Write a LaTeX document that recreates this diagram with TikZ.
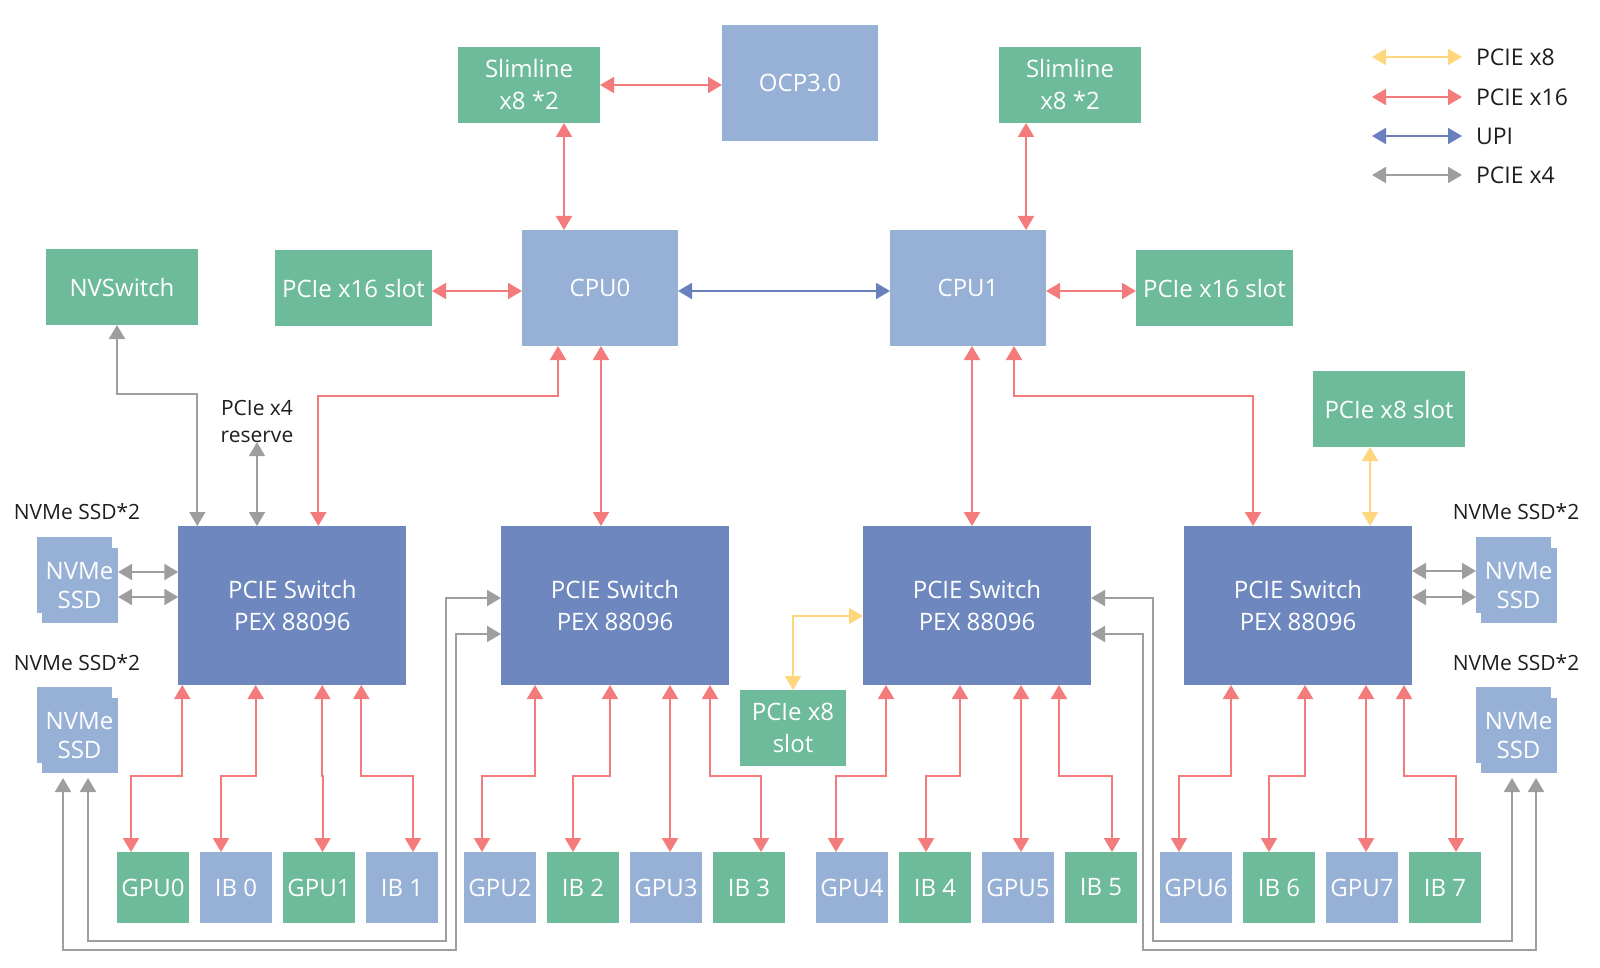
\documentclass[tikz,border=0pt]{standalone}
\usepackage{fontspec}
\setmainfont{Open Sans}
\usetikzlibrary{arrows.meta}
\definecolor{boxgreen}{HTML}{6DBB9B}
\definecolor{boxblue}{HTML}{97B0D6}
\definecolor{swblue}{HTML}{6E88BF}
\definecolor{linkred}{HTML}{F37B7B}
\definecolor{linkgray}{HTML}{9E9E9E}
\definecolor{linkyellow}{HTML}{FDD67E}
\definecolor{linkblue}{HTML}{6A80BE}
\definecolor{labelblack}{HTML}{1E1E1E}
\newcommand{\ssdlabel}{\hspace*{4pt}\raisebox{-8pt}[\dimexpr\height+8pt\relax][\dimexpr\depth+8pt\relax]{\begin{tabular}{@{}c@{}}NVMe\\SSD\end{tabular}}}

\begin{document}
\begin{tikzpicture}[x=1pt,y=-1pt,>={Triangle[length=14pt,width=16pt]}]
\tikzstyle{every node}=[inner sep=0pt,outer sep=0pt]
\tikzstyle{hwbox}=[rectangle,minimum width=152pt,minimum height=76pt,text=white,align=center,font=\fontsize{24}{32}\selectfont]
\tikzstyle{greenbox}=[hwbox,fill=boxgreen]
\tikzstyle{bluebox}=[hwbox,fill=boxblue]
\tikzstyle{switchbox}=[hwbox,fill=swblue,minimum width=228pt,minimum height=159pt]
\tikzstyle{cardbox}=[hwbox,minimum width=72pt,minimum height=71pt]
\tikzstyle{ssdbox}=[hwbox,minimum width=81pt,minimum height=86pt,font=\fontsize{24}{29}\selectfont,
  path picture={\fill[boxblue] (path picture bounding box.north west) rectangle ([xshift=-6pt,yshift=10pt]path picture bounding box.south east);
  \fill[boxblue] ([xshift=5pt,yshift=-11pt]path picture bounding box.north west) rectangle (path picture bounding box.south east);}]
\tikzstyle{lbl}=[text=labelblack,align=center,font=\fontsize{21}{27}\selectfont]
\tikzstyle{legendtext}=[text=labelblack,anchor=west,font=\fontsize{23}{28}\selectfont]
\tikzstyle{link}=[line width=2pt,<->]
\tikzstyle{pcie16}=[link,draw=linkred]
\tikzstyle{pcie8}=[link,draw=linkyellow]
\tikzstyle{pcie4}=[link,draw=linkgray]
\tikzstyle{upi}=[link,draw=linkblue]
\useasboundingbox (0,0) rectangle (1600,968);

\node[greenbox,minimum width=142pt] (slim0) at (529,85) {Slimline\\x8 *2};
\node[bluebox,minimum width=156pt,minimum height=116pt] (ocp) at (800,83) {OCP3.0};
\node[greenbox,minimum width=142pt] (slim1) at (1070,85) {Slimline\\x8 *2};
\node[greenbox] (nvsw) at (122,287) {NVSwitch};
\node[greenbox,minimum width=157pt] (slot16a) at (353.5,288) {PCIe x16 slot};
\node[bluebox,minimum width=156pt,minimum height=116pt] (cpu0) at (600,288) {CPU0};
\node[bluebox,minimum width=156pt,minimum height=116pt] (cpu1) at (968,288) {CPU1};
\node[greenbox,minimum width=157pt] (slot16b) at (1214.5,288) {PCIe x16 slot};
\node[greenbox] (slot8a) at (1389,409) {PCIe x8 slot};
\node[greenbox,minimum width=106pt] (slot8b) at (793,728) {PCIe x8\\slot};

\node[switchbox] (sw0) at (292.3,605.5) {PCIE Switch\\PEX 88096};
\node[switchbox] (sw1) at (615,605.5) {PCIE Switch\\PEX 88096};
\node[switchbox] (sw2) at (977,605.5) {PCIE Switch\\PEX 88096};
\node[switchbox] (sw3) at (1298,605.5) {PCIE Switch\\PEX 88096};

\node[ssdbox] (ssd0) at (77.5,580) {\ssdlabel};
\node[ssdbox] (ssd1) at (77.5,730) {\ssdlabel};
\node[ssdbox] (ssd2) at (1516.5,580) {\ssdlabel};
\node[ssdbox] (ssd3) at (1516.5,730) {\ssdlabel};
\node[lbl] (ssdlbl0) at (77,512) {NVMe SSD*2};
\node[lbl] (ssdlbl1) at (77,663) {NVMe SSD*2};
\node[lbl] (ssdlbl2) at (1516,512) {NVMe SSD*2};
\node[lbl] (ssdlbl3) at (1516,663) {NVMe SSD*2};
\node[lbl] (reserve) at (257,421) {PCIe x4\\reserve};

\foreach \n/\c/\t/\x in {gpu0/boxgreen/GPU0/153, ib0/boxblue/IB 0/236, gpu1/boxgreen/GPU1/319, ib1/boxblue/IB 1/402,
  gpu2/boxblue/GPU2/500, ib2/boxgreen/IB 2/583, gpu3/boxblue/GPU3/666, ib3/boxgreen/IB 3/749,
  gpu4/boxblue/GPU4/852, ib4/boxgreen/IB 4/935, gpu5/boxblue/GPU5/1018, ib5/boxgreen/IB 5/1101,
  gpu6/boxblue/GPU6/1196, ib6/boxgreen/IB 6/1279, gpu7/boxblue/GPU7/1362, ib7/boxgreen/IB 7/1445}
  \node[cardbox,fill=\c] (\n) at (\x,887.5) {\t};

\foreach \y/\s/\t [count=\i] in {57/pcie8/PCIE x8, 97/pcie16/PCIE x16, 136/upi/UPI, 175/pcie4/PCIE x4}
{
  \node[legendtext] (lg\i) at (1476,\y) {\t};
  \draw[\s] ([xshift=-104pt]lg\i.west) -- ([xshift=-14pt]lg\i.west);
}

\draw[pcie16] (slim0.east) -- (slim0.east -| ocp.west);
\draw[pcie16] ([xshift=35pt]slim0.south) -- ([xshift=35pt]slim0.south |- cpu0.north);
\draw[pcie16] ([xshift=-44pt]slim1.south) -- ([xshift=-44pt]slim1.south |- cpu1.north);
\draw[pcie16] ([yshift=-3pt]slot16a.east) -- ([yshift=-3pt]slot16a.east -| cpu0.west);
\draw[upi] ([yshift=-3pt]cpu0.east) -- ([yshift=-3pt]cpu0.east -| cpu1.west);
\draw[pcie16] ([yshift=-3pt]cpu1.east) -- ([yshift=-3pt]cpu1.east -| slot16b.west);

\draw[pcie16] ([xshift=-42pt]cpu0.south) -- ++(0,50) -| ([xshift=26pt]sw0.north);
\draw[pcie16] ([xshift=1pt]cpu0.south) -- ([xshift=1pt]cpu0.south |- sw1.north);
\draw[pcie16] ([xshift=4pt]cpu1.south) -- ([xshift=4pt]cpu1.south |- sw2.north);
\draw[pcie16] ([xshift=46pt]cpu1.south) -- ++(0,50) -| ([xshift=-45pt]sw3.north);

\draw[pcie4] ([xshift=-5pt]nvsw.south) -- ++(0,69) -| ([xshift=-95pt]sw0.north);
\draw[pcie4] (reserve.south) -- (reserve.south |- sw0.north);
\draw[pcie8] ([xshift=-19pt]slot8a.south) -- ([xshift=-19pt]slot8a.south |- sw3.north);
\draw[pcie8] ([yshift=-10.5pt]sw2.west) -| (slot8b.north);

\draw[pcie4] ([yshift=8pt]ssd0.east) -- ([yshift=8pt]ssd0.east -| sw0.west);
\draw[pcie4] ([yshift=-17pt]ssd0.east) -- ([yshift=-17pt]ssd0.east -| sw0.west);
\draw[pcie4] ([yshift=9pt]ssd2.west) -- ([yshift=9pt]ssd2.west -| sw3.east);
\draw[pcie4] ([yshift=-17pt]ssd2.west) -- ([yshift=-17pt]ssd2.west -| sw3.east);

\coordinate (lbendA) at (446,941);
\coordinate (lbendB) at (456,950);
\coordinate (rbendA) at (1153,941);
\coordinate (rbendB) at (1143,950);
\draw[pcie4] ([xshift=51pt,yshift=-5pt]ssd1.south west) |- (lbendA) |- ([yshift=7.5pt]sw1.west);
\draw[pcie4] ([xshift=26pt,yshift=-5pt]ssd1.south west) |- (lbendB) |- ([yshift=-28.5pt]sw1.west);
\draw[pcie4] ([xshift=36pt,yshift=-5pt]ssd3.south west) |- (rbendA) |- ([yshift=7.5pt]sw2.east);
\draw[pcie4] ([xshift=60pt,yshift=-5pt]ssd3.south west) |- (rbendB) |- ([yshift=-28.5pt]sw2.east);

\foreach \sw/\sx/\card/\cx in {sw0/4/gpu0/14, sw0/77.4/ib0/21, sw0/144/gpu1/39.5, sw0/183/ib1/47,
  sw1/34/gpu2/18, sw1/109/ib2/26, sw1/169/gpu3/40, sw1/209/ib3/48,
  sw2/23/gpu4/20, sw2/97/ib4/27, sw2/158/gpu5/39, sw2/196/ib5/47,
  sw3/47/gpu6/19, sw3/121/ib6/26, sw3/182/gpu7/40, sw3/220/ib7/47}
  \draw[pcie16] ([xshift=\sx pt]\sw.south west) -- ++(0,91) -| ([xshift=\cx pt]\card.north west);
\end{tikzpicture}
\end{document}
